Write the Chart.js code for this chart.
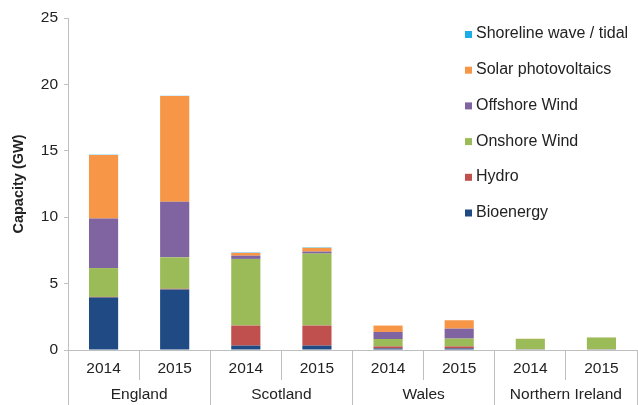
<!DOCTYPE html>
<html>
<head>
<meta charset="utf-8">
<script src="https://cdn.jsdelivr.net/npm/chart.js@4"></script>
<style>
  html, body { margin: 0; padding: 0; background: #fff; }
  #wrap { width: 638px; height: 405px; }
</style>
</head>
<body>
<div id="wrap"><canvas id="chart"></canvas></div>
<script>
// capacity by country and year (GW)
var years = ["2014", "2015", "2014", "2015", "2014", "2015", "2014", "2015"];
var countries = ["England", "Scotland", "Wales", "Northern Ireland"];

var bioenergy = [3.95, 4.56, 0.33, 0.33, 0.12, 0.12, 0.05, 0.05];
var hydro     = [0.05, 0.05, 1.51, 1.51, 0.15, 0.15, 0.01, 0.01];
var onshore   = [2.17, 2.37, 5.02, 5.42, 0.56, 0.59, 0.78, 0.88];
var offshore  = [3.73, 4.18, 0.24, 0.15, 0.53, 0.75, 0.0, 0.0];
var solar     = [4.79, 7.96, 0.21, 0.28, 0.48, 0.63, 0.01, 0.01];
var tidal     = [0.02, 0.02, 0.03, 0.03, 0.0, 0.0, 0.0, 0.0];

var seriesNames = ["Bioenergy", "Hydro", "Onshore Wind", "Offshore Wind", "Solar photovoltaics", "Shoreline wave / tidal"];
var seriesValues = [bioenergy, hydro, onshore, offshore, solar, tidal];
var seriesColors = ["#1F4A84", "#C0504D", "#9BBB59", "#8064A2", "#F79646", "#1CACE8"];

var yTicks = [0, 5, 10, 15, 20, 25];

var FONT = "'Liberation Sans', Arial, sans-serif";

var datasets = seriesNames.map(function (name, i) {
    return {
        label: name,
        data: seriesValues[i],
        backgroundColor: seriesColors[i],
        borderWidth: 0,
        categoryPercentage: 1.0,
        barPercentage: 0.41
    };
});

// legend drawn inside the plot, top item = last series
var sideLegend = {
    id: "sideLegend",
    afterDraw: function (chart) {
        var ctx = chart.ctx;
        var ds = chart.data.datasets;
        ctx.save();
        ctx.font = "16px " + FONT;
        ctx.textBaseline = "middle";
        for (var k = 0; k < ds.length; k++) {
            var d = ds[ds.length - 1 - k];
            var y = 34 + k * 35.7;
            ctx.fillStyle = d.backgroundColor;
            ctx.fillRect(465, y - 3, 7, 7);
            ctx.fillStyle = "#222";
            ctx.fillText(d.label, 476, y);
        }
        ctx.restore();
    }
};

var ctx = document.getElementById("chart").getContext("2d");
var chart = new Chart(ctx, {
    type: "bar",
    data: { labels: years, datasets: datasets },
    options: {
        responsive: true,
        maintainAspectRatio: false,
        animation: false,
        layout: { padding: { top: 18, right: 1, left: 10, bottom: 0 } },
        plugins: {
            legend: { display: false },
            tooltip: { enabled: false }
        },
        scales: {
            x: {
                stacked: true,
                position: "bottom",
                grid: { offset: true, drawOnChartArea: false, color: "#bfbfbf", tickLength: 30 },
                border: { color: "#bfbfbf" },
                ticks: { color: "#222", font: { size: 15.5, family: FONT }, padding: -21, maxRotation: 0 },
                afterFit: function (s) { s.height = 30; }
            },
            x2: {
                type: "category",
                labels: countries,
                position: "bottom",
                offset: true,
                grid: { offset: true, drawOnChartArea: false, color: "#bfbfbf", tickLength: 25 },
                border: { display: false },
                ticks: { color: "#222", font: { size: 15.5, family: FONT }, padding: -20, maxRotation: 0 },
                afterFit: function (s) { s.height = 25; }
            },
            y: {
                stacked: true,
                min: 0,
                max: 25,
                afterBuildTicks: function (s) { s.ticks = yTicks.map(function (v) { return { value: v }; }); },
                grid: { drawOnChartArea: false, color: "#bfbfbf", tickLength: 4 },
                border: { color: "#bfbfbf" },
                ticks: { color: "#222", font: { size: 15.5, family: FONT }, padding: 6 },
                title: {
                    display: true,
                    text: "Capacity (GW)",
                    color: "#222",
                    font: { size: 14.5, weight: "bold", family: FONT },
                    padding: { top: 0, bottom: 4 }
                },
                afterFit: function (s) { s.width = 58; }
            }
        }
    },
    plugins: [sideLegend]
});
</script>
</body>
</html>
